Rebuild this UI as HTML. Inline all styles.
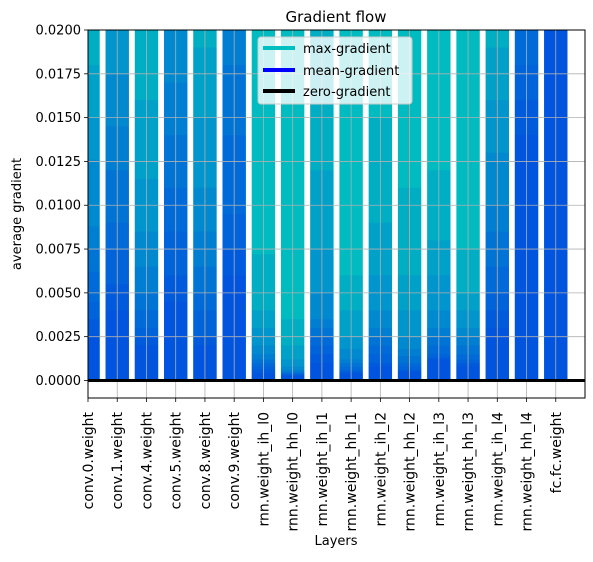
<!DOCTYPE html>
<html><head><meta charset="utf-8"><style>
body{margin:0;background:#fff}
svg text{font-family:"DejaVu Sans","Liberation Sans",sans-serif;fill:#000}
</style></head><body>
<svg id="chart" width="593" height="557" xmlns="http://www.w3.org/2000/svg">
<rect width="593" height="557" fill="#fff"/>
<g id="bars"></g><g id="grid"></g><g id="axes"></g>
</svg>
<script>
const layers=["conv.0.weight","conv.1.weight","conv.4.weight","conv.5.weight","conv.8.weight","conv.9.weight","rnn.weight_ih_l0","rnn.weight_hh_l0","rnn.weight_ih_l1","rnn.weight_hh_l1","rnn.weight_ih_l2","rnn.weight_hh_l2","rnn.weight_ih_l3","rnn.weight_hh_l3","rnn.weight_ih_l4","rnn.weight_hh_l4","fc.fc.weight"];
const maxGrads=[0.05,0.05,0.05,0.05,0.05,0.05,0.05,0.05,0.05,0.05,0.05,0.05,0.05,0.05,0.05,0.05,0.05];
const meanGrads=[
[0.022,0.018,0.015,0.0126,0.0088,0.0075,0.0062,0.0045,0.0035,0.0026],
[0.025,0.022,0.02,0.0175,0.0145,0.012,0.009,0.0075,0.0055,0.004],
[0.021,0.016,0.0115,0.0085,0.0065,0.005,0.004,0.003,0.0025,0.002],
[0.025,0.022,0.021,0.02,0.017,0.014,0.011,0.0085,0.006,0.0045],
[0.021,0.019,0.015,0.011,0.0085,0.0065,0.005,0.004,0.0025,0.002],
[0.03,0.025,0.022,0.021,0.02,0.018,0.014,0.0095,0.0075,0.006],
[0.0072,0.004,0.003,0.002,0.0015,0.0012,0.001,0.0008,0.0006,0.0004],
[0.0035,0.002,0.0012,0.0008,0.0006,0.0005,0.0004,0.0004,0.0003,0.0003],
[0.02,0.012,0.0075,0.005,0.0035,0.003,0.0025,0.002,0.0015,0.001],
[0.006,0.004,0.0025,0.0018,0.0012,0.001,0.0008,0.0006,0.0005,0.0004],
[0.015,0.009,0.006,0.004,0.003,0.0025,0.002,0.0015,0.001,0.0008],
[0.011,0.006,0.004,0.0025,0.0018,0.0014,0.001,0.0008,0.0006,0.0005],
[0.012,0.008,0.006,0.004,0.003,0.0025,0.002,0.0015,0.0013,0.0012],
[0.0075,0.005,0.004,0.003,0.0025,0.002,0.0015,0.0012,0.001,0.0008],
[0.021,0.019,0.016,0.013,0.01,0.0085,0.0065,0.005,0.004,0.003],
[0.03,0.03,0.025,0.025,0.022,0.02,0.02,0.018,0.016,0.014],
[0.04,0.04,0.04,0.04,0.04,0.04,0.04,0.04,0.04,0.04]];
const yTicks=[0,0.0025,0.005,0.0075,0.01,0.0125,0.015,0.0175,0.02];
const yTickLabels=["0.0000","0.0025","0.0050","0.0075","0.0100","0.0125","0.0150","0.0175","0.0200"];
const X0=88,X1=585,Y0=30,Y1=398,YMIN=-0.001,YMAX=0.02;
const xs=i=>X0+(i)*(X1-X0)/layers.length;
const ys=v=>Y1-(Math.max(Math.min(v,YMAX),YMIN)-YMIN)*(Y1-Y0)/(YMAX-YMIN);
const NS="http://www.w3.org/2000/svg";
function mk(t,a,p){const e=document.createElementNS(NS,t);for(const k in a)e.setAttribute(k,a[k]);p.appendChild(e);return e;}
const bars=document.getElementById('bars'),grid=document.getElementById('grid'),axes=document.getElementById('axes');
const bw=0.8*(X1-X0)/layers.length;
layers.forEach((l,i)=>{
  const cx=xs(i);let x=Math.max(cx-bw/2,X0),w=Math.min(cx+bw/2,X1)-x;
  const r=mk('rect',{x:x,y:ys(maxGrads[i]),width:w,height:ys(0)-ys(maxGrads[i]),fill:'#00bcc0'},bars);
  
  
  meanGrads[i].forEach(v=>{
    const m=mk('rect',{x:x,y:ys(v),width:w,height:ys(0)-ys(v),fill:'#0000ff','fill-opacity':0.075},bars);
    
    
  });
  const g=mk('line',{x1:cx,x2:cx,y1:Y0,y2:Y1,stroke:'#b0b0b0','stroke-width':0.8},grid);
  
  
  mk('line',{x1:cx,x2:cx,y1:Y1,y2:Y1+4,stroke:'#000','stroke-width':0.8},axes);
  const t=mk('text',{x:0,y:0,'font-size':14,'text-anchor':'end',transform:`translate(${cx+5},${Y1+14}) rotate(-90)`},axes);
  t.textContent=l;
  
  
});
yTicks.forEach((v,k)=>{
  const y=ys(v);
  const g=mk('line',{x1:X0,x2:X1,y1:y,y2:y,stroke:'#b0b0b0','stroke-width':0.8},grid);
  
  
  mk('line',{x1:X0-4,x2:X0,y1:y,y2:y,stroke:'#000','stroke-width':0.8},axes);
  const t=mk('text',{x:X0-7,y:y+4.5,'font-size':13,'text-anchor':'end'},axes);
  t.textContent=yTickLabels[k];
  
  
});
const z=mk('line',{x1:X0,x2:X1,y1:ys(0),y2:ys(0),stroke:'#000','stroke-width':3},axes);


const f=mk('rect',{x:X0,y:Y0,width:X1-X0,height:Y1-Y0,fill:'none',stroke:'#000','stroke-width':1},axes);


</script>
<svg style="position:absolute;left:0;top:0" width="593" height="557" xmlns="http://www.w3.org/2000/svg">
<text x="336" y="22" font-size="15" text-anchor="middle">Gradient flow</text>
<text x="0" y="0" font-size="13" text-anchor="middle" transform="translate(21,214) rotate(-90)">average gradient</text>
<text x="336" y="545" font-size="13" text-anchor="middle">Layers</text>
<g>
<rect x="258" y="37" width="154" height="67" rx="3" fill="#ffffff" fill-opacity="0.8" stroke="#cccccc"/>
<line x1="263" x2="295" y1="48" y2="48" stroke="#00bfbf" stroke-width="4"/>
<text x="303" y="53" font-size="13">max-gradient</text>
<line x1="263" x2="295" y1="70" y2="70" stroke="#0000ff" stroke-width="4"/>
<text x="303" y="75" font-size="13">mean-gradient</text>
<line x1="263" x2="295" y1="91" y2="91" stroke="#000" stroke-width="4"/>
<text x="303" y="96" font-size="13">zero-gradient</text>
</g>
</svg>
</body></html>
